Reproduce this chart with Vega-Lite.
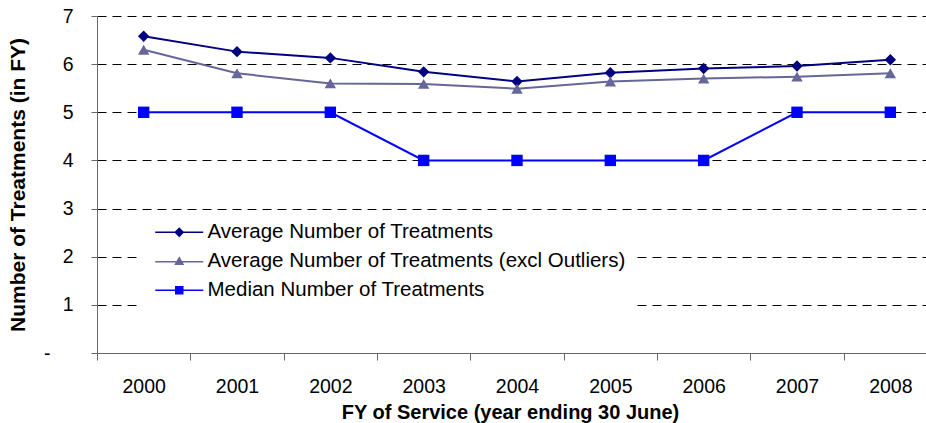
{
  "$schema": "https://vega.github.io/schema/vega-lite/v6.json",
  "width": 829,
  "height": 337,
  "autosize": {"type": "none"},
  "padding": {"left": 97, "top": 16, "right": 0, "bottom": 70},
  "background": "white",
  "config": {"view": {"stroke": null}, "font": "Liberation Sans"},
  "data": {
    "values": [
      {"year": "2000", "series": "Average Number of Treatments", "value": 6.58},
      {"year": "2001", "series": "Average Number of Treatments", "value": 6.26},
      {"year": "2002", "series": "Average Number of Treatments", "value": 6.13},
      {"year": "2003", "series": "Average Number of Treatments", "value": 5.84},
      {"year": "2004", "series": "Average Number of Treatments", "value": 5.64},
      {"year": "2005", "series": "Average Number of Treatments", "value": 5.82},
      {"year": "2006", "series": "Average Number of Treatments", "value": 5.91},
      {"year": "2007", "series": "Average Number of Treatments", "value": 5.96},
      {"year": "2008", "series": "Average Number of Treatments", "value": 6.09},
      {"year": "2000", "series": "Average Number of Treatments (excl Outliers)", "value": 6.3},
      {"year": "2001", "series": "Average Number of Treatments (excl Outliers)", "value": 5.81},
      {"year": "2002", "series": "Average Number of Treatments (excl Outliers)", "value": 5.6},
      {"year": "2003", "series": "Average Number of Treatments (excl Outliers)", "value": 5.59},
      {"year": "2004", "series": "Average Number of Treatments (excl Outliers)", "value": 5.49},
      {"year": "2005", "series": "Average Number of Treatments (excl Outliers)", "value": 5.64},
      {"year": "2006", "series": "Average Number of Treatments (excl Outliers)", "value": 5.7},
      {"year": "2007", "series": "Average Number of Treatments (excl Outliers)", "value": 5.74},
      {"year": "2008", "series": "Average Number of Treatments (excl Outliers)", "value": 5.81},
      {"year": "2000", "series": "Median Number of Treatments", "value": 5},
      {"year": "2001", "series": "Median Number of Treatments", "value": 5},
      {"year": "2002", "series": "Median Number of Treatments", "value": 5},
      {"year": "2003", "series": "Median Number of Treatments", "value": 4},
      {"year": "2004", "series": "Median Number of Treatments", "value": 4},
      {"year": "2005", "series": "Median Number of Treatments", "value": 4},
      {"year": "2006", "series": "Median Number of Treatments", "value": 4},
      {"year": "2007", "series": "Median Number of Treatments", "value": 5},
      {"year": "2008", "series": "Median Number of Treatments", "value": 5}
    ]
  },
  "transform": [{"calculate": "datum.series", "as": "marker_series"}],
  "encoding": {
    "x": {
      "field": "year",
      "type": "ordinal",
      "scale": {"type": "band", "range": [0, 840], "paddingInner": 0, "paddingOuter": 0},
      "axis": {
        "title": "FY of Service (year ending 30 June)",
        "titleX": 413,
        "labelAngle": 0,
        "tickBand": "extent",
        "tickSize": 7,
        "labelPadding": 17,
        "labelFontSize": 19.5,
        "labelColor": "black",
        "titleFontSize": 20,
        "titleFontWeight": "bold",
        "titleColor": "black",
        "titlePadding": 7,
        "domainColor": "#666666",
        "tickColor": "#666666",
        "grid": false
      }
    },
    "y": {
      "field": "value",
      "type": "quantitative",
      "scale": {"domain": [0, 7], "nice": false},
      "axis": {
        "values": [0, 1, 2, 3, 4, 5, 6, 7],
        "title": "Number of Treatments (in FY)",
        "titleFontSize": 21,
        "titleFontWeight": "bold",
        "titleColor": "black",
        "titlePadding": 15,
        "labelFontSize": 19.5,
        "labelColor": "black",
        "labelPadding": {"condition": {"test": "datum.value == 0", "value": 41}, "value": 18},
        "tickSize": 6,
        "tickColor": "#666666",
        "domainColor": "#666666",
        "grid": true,
        "gridColor": "#000000",
        "gridDash": [9, 6],
        "gridOpacity": {"condition": {"test": "datum.value == 0", "value": 0}, "value": 1},
        "labelExpr": "datum.value == 0 ? '-' : datum.label"
      }
    },
    "color": {
      "field": "series",
      "type": "nominal",
      "scale": {
        "domain": ["Average Number of Treatments", "Average Number of Treatments (excl Outliers)", "Median Number of Treatments"],
        "range": ["#000080", "#666699", "#0000FF"]
      },
      "legend": {
        "orient": "none",
        "legendX": 43,
        "legendY": 198,
        "title": null,
        "fillColor": "white",
        "padding": 8,
        "labelFont": "Liberation Sans",
        "labelFontSize": 20.5,
        "labelColor": "black",
        "labelLimit": 600,
        "symbolSize": 100,
        "symbolOffset": 21,
        "labelOffset": 18,
        "rowPadding": 8,
        "encode": {
          "symbols": {
            "update": {
              "shape": {"signal": "datum.value == 'Average Number of Treatments' ? 'M-4.8,-0.15L4.8,-0.15L4.8,0.15L-4.8,0.15ZM0,-1L1,0L0,1L-1,0Z' : (datum.value == 'Median Number of Treatments' ? 'M-4.8,-0.15L4.8,-0.15L4.8,0.15L-4.8,0.15ZM-0.85,-0.85L0.85,-0.85L0.85,0.85L-0.85,0.85Z' : 'M-4.8,-0.05L4.8,-0.05L4.8,0.25L-4.8,0.25ZM0,-1L1,0.75L-1,0.75Z')"},
              "fill": {"signal": "scale('color', datum.value)"},
              "fillOpacity": {"value": 1},
              "opacity": {"value": 1},
              "strokeWidth": {"value": 0}
            }
          }
        }
      }
    }
  },
  "layer": [
    {"mark": {"type": "line", "strokeWidth": 2}},
    {
      "mark": {"type": "point", "filled": true, "size": 130, "opacity": 1},
      "encoding": {
        "shape": {
          "field": "marker_series",
          "type": "nominal",
          "scale": {"range": ["diamond", "triangle-up", "square"]},
          "legend": null
        }
      }
    }
  ]
}
